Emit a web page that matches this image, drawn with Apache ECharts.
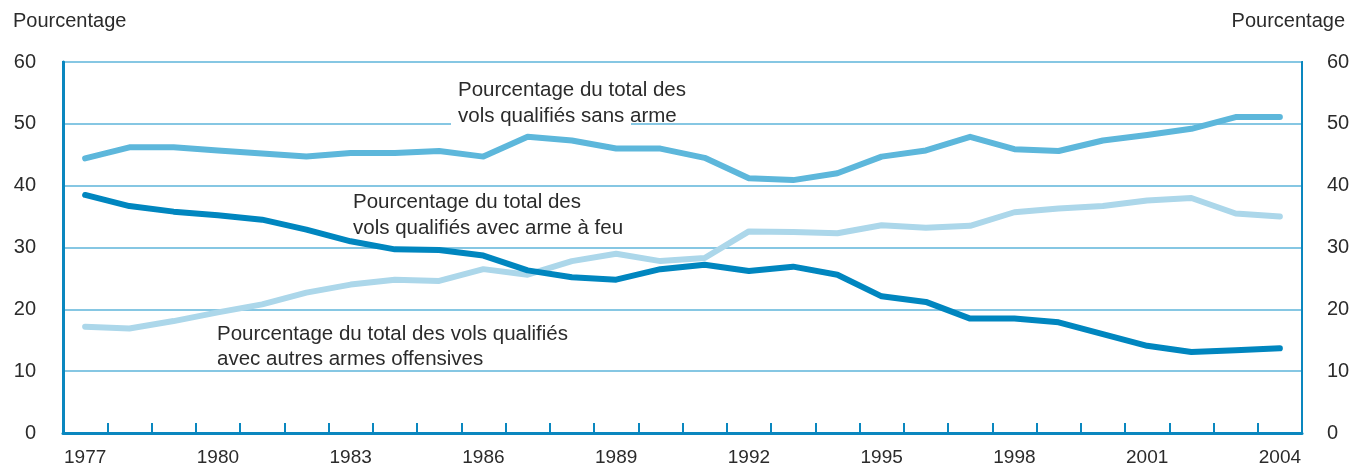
<!DOCTYPE html>
<html>
<head>
<meta charset="utf-8">
<script src="https://cdn.jsdelivr.net/npm/echarts@6/dist/echarts.min.js"></script>
<style>
  html, body { margin: 0; padding: 0; background: #fff; }
  #chart { width: 1369px; height: 467px; }
</style>
</head>
<body>
<div id="chart"></div>
<script>
// années
var years = ['1977','1978','1979','1980','1981','1982','1983','1984','1985','1986',
             '1987','1988','1989','1990','1991','1992','1993','1994','1995','1996',
             '1997','1998','1999','2000','2001','2002','2003','2004'];

// vols qualifiés sans arme
var sansArme = [44.4, 46.2, 46.2, 45.7, 45.2, 44.7, 45.3, 45.3, 45.6, 44.7,
                47.9, 47.3, 46.0, 46.0, 44.5, 41.2, 40.9, 42.0, 44.7, 45.7,
                47.9, 45.9, 45.6, 47.3, 48.2, 49.2, 51.1, 51.1];

// vols qualifiés avec arme à feu
var armeFeu = [38.5, 36.7, 35.8, 35.2, 34.5, 32.9, 31.0, 29.7, 29.6, 28.7,
               26.3, 25.2, 24.8, 26.5, 27.2, 26.2, 26.9, 25.6, 22.1, 21.2,
               18.5, 18.5, 17.9, 16.0, 14.1, 13.1, 13.4, 13.7];

// vols qualifiés avec autres armes offensives
var autresArmes = [17.2, 16.9, 18.1, 19.5, 20.8, 22.7, 24.0, 24.8, 24.6, 26.5,
                   25.6, 27.8, 29.0, 27.8, 28.3, 32.6, 32.5, 32.3, 33.6, 33.2,
                   33.5, 35.7, 36.3, 36.7, 37.6, 38.0, 35.5, 35.0];

var yTicks = [0, 10, 20, 30, 40, 50, 60];

var axisBlue = '#0a87bf';
var gridBlue = '#86c7e3';
var txt = '#2b2b2b';
var font = '"Liberation Sans", Arial, sans-serif';

var chart = echarts.init(document.getElementById('chart'));

var option = {
    animation: false,
    textStyle: { fontFamily: font },
    grid: {
        left: 63, right: 67, top: 62, bottom: 33,
        show: true,
        borderColor: axisBlue,
        borderWidth: 2
    },
    xAxis: {
        type: 'category',
        data: years,
        boundaryGap: true,
        axisLine: { lineStyle: { color: axisBlue, width: 3 } },
        axisTick: { show: true, inside: true, length: 10, interval: 0, lineStyle: { color: axisBlue, width: 2 } },
        axisLabel: { interval: 2, color: txt, fontSize: 19, fontFamily: font, margin: 15 }
    },
    yAxis: [
        {
            type: 'value', min: yTicks[0], max: yTicks[yTicks.length - 1], interval: 10,
            position: 'left',
            axisLine: { show: true, lineStyle: { color: axisBlue, width: 3 } },
            axisTick: { show: false },
            axisLabel: { color: txt, fontSize: 20, fontFamily: font, margin: 27 },
            splitLine: { lineStyle: { color: gridBlue, width: 2 } }
        },
        {
            type: 'value', min: yTicks[0], max: yTicks[yTicks.length - 1], interval: 10,
            position: 'right',
            axisLine: { show: true, lineStyle: { color: axisBlue, width: 2 } },
            axisTick: { show: false },
            axisLabel: { color: txt, fontSize: 20, fontFamily: font, margin: 25 },
            splitLine: { show: false }
        }
    ],
    series: [
        {
            name: 'sans arme', type: 'line', data: sansArme, symbol: 'none',
            lineStyle: { color: '#5db7db', width: 6, cap: 'round', join: 'round' }
        },
        {
            name: 'autres armes', type: 'line', data: autresArmes, symbol: 'none',
            lineStyle: { color: '#acd7ea', width: 6, cap: 'round', join: 'round' }
        },
        {
            name: 'arme à feu', type: 'line', data: armeFeu, symbol: 'none',
            lineStyle: { color: '#0086bf', width: 6, cap: 'round', join: 'round' }
        }
    ],
    graphic: [
        { type: 'text', left: 13, top: 11, style: { text: 'Pourcentage', fill: txt, font: '20px ' + font } },
        { type: 'text', right: 24, top: 11, style: { text: 'Pourcentage', fill: txt, font: '20px ' + font } },
        // fond blanc derrière l'étiquette sur la ligne 50
        { type: 'rect', shape: { x: 451, y: 121, width: 180, height: 6 }, style: { fill: '#fff' }, z: 10 },
        { type: 'text', x: 458, y: 77, z: 11, style: { text: 'Pourcentage du total des\nvols qualifiés sans arme', fill: txt, font: '20.5px ' + font, lineHeight: 26 } },
        { type: 'text', x: 353, y: 189, z: 11, style: { text: 'Pourcentage du total des\nvols qualifiés avec arme à feu', fill: txt, font: '20.5px ' + font, lineHeight: 26 } },
        { type: 'text', x: 217, y: 322, z: 11, style: { text: 'Pourcentage du total des vols qualifiés\navec autres armes offensives', fill: txt, font: '20.5px ' + font, lineHeight: 25 } }
    ]
};

chart.setOption(option);
</script>
</body>
</html>
